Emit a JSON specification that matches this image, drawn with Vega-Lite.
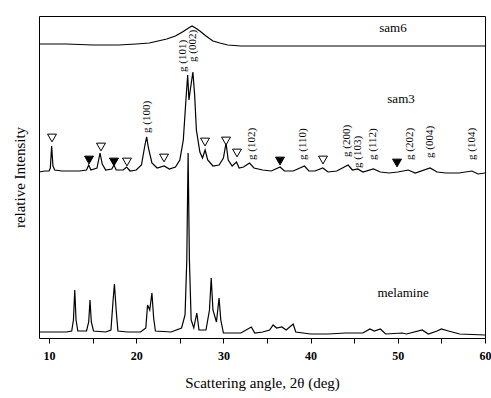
{
  "$schema": "https://vega.github.io/schema/vega-lite/v6.json",
  "width": 446,
  "height": 322,
  "autosize": {"type": "none"},
  "padding": {"left": 39, "top": 16, "right": 6, "bottom": 60},
  "background": "white",
  "config": {
    "view": {"stroke": "black", "strokeWidth": 1},
    "font": "Liberation Serif"
  },
  "datasets": {
    "traces": [
      {"s": "sam6", "a": 8.85, "i": 294}, {"s": "sam6", "a": 12, "i": 294}, {"s": "sam6", "a": 15, "i": 293}, {"s": "sam6", "a": 18, "i": 293}, {"s": "sam6", "a": 20, "i": 294}, {"s": "sam6", "a": 21.5, "i": 295}, {"s": "sam6", "a": 22.5, "i": 297}, {"s": "sam6", "a": 23.5, "i": 299}, {"s": "sam6", "a": 24.5, "i": 302}, {"s": "sam6", "a": 25.3, "i": 306}, {"s": "sam6", "a": 26.0, "i": 310}, {"s": "sam6", "a": 26.4, "i": 312}, {"s": "sam6", "a": 26.8, "i": 310}, {"s": "sam6", "a": 27.3, "i": 307}, {"s": "sam6", "a": 28.0, "i": 302}, {"s": "sam6", "a": 28.8, "i": 297}, {"s": "sam6", "a": 29.6, "i": 295}, {"s": "sam6", "a": 30.5, "i": 293}, {"s": "sam6", "a": 32, "i": 292}, {"s": "sam6", "a": 40, "i": 292}, {"s": "sam6", "a": 45, "i": 292}, {"s": "sam6", "a": 50, "i": 292}, {"s": "sam6", "a": 55, "i": 292}, {"s": "sam6", "a": 60, "i": 292},
      {"s": "sam3", "a": 8.85, "i": 166}, {"s": "sam3", "a": 9.5, "i": 167}, {"s": "sam3", "a": 10.0, "i": 167}, {"s": "sam3", "a": 10.15, "i": 170}, {"s": "sam3", "a": 10.3, "i": 192}, {"s": "sam3", "a": 10.45, "i": 172}, {"s": "sam3", "a": 10.65, "i": 168}, {"s": "sam3", "a": 11.5, "i": 167}, {"s": "sam3", "a": 12.5, "i": 167}, {"s": "sam3", "a": 13.5, "i": 167}, {"s": "sam3", "a": 14.3, "i": 168}, {"s": "sam3", "a": 14.55, "i": 173}, {"s": "sam3", "a": 14.8, "i": 168}, {"s": "sam3", "a": 15.5, "i": 170}, {"s": "sam3", "a": 15.85, "i": 185}, {"s": "sam3", "a": 16.1, "i": 174}, {"s": "sam3", "a": 16.5, "i": 168}, {"s": "sam3", "a": 17.2, "i": 169}, {"s": "sam3", "a": 17.45, "i": 173}, {"s": "sam3", "a": 17.7, "i": 168}, {"s": "sam3", "a": 18.5, "i": 168}, {"s": "sam3", "a": 18.9, "i": 171}, {"s": "sam3", "a": 19.3, "i": 167}, {"s": "sam3", "a": 20.0, "i": 168}, {"s": "sam3", "a": 20.6, "i": 173}, {"s": "sam3", "a": 21.0, "i": 193}, {"s": "sam3", "a": 21.2, "i": 201}, {"s": "sam3", "a": 21.4, "i": 190}, {"s": "sam3", "a": 21.8, "i": 175}, {"s": "sam3", "a": 22.4, "i": 170}, {"s": "sam3", "a": 23.2, "i": 172}, {"s": "sam3", "a": 23.8, "i": 169}, {"s": "sam3", "a": 24.5, "i": 171}, {"s": "sam3", "a": 25.0, "i": 178}, {"s": "sam3", "a": 25.4, "i": 198}, {"s": "sam3", "a": 25.7, "i": 238}, {"s": "sam3", "a": 25.9, "i": 263}, {"s": "sam3", "a": 26.05, "i": 238}, {"s": "sam3", "a": 26.2, "i": 248}, {"s": "sam3", "a": 26.5, "i": 266}, {"s": "sam3", "a": 26.7, "i": 243}, {"s": "sam3", "a": 26.9, "i": 208}, {"s": "sam3", "a": 27.3, "i": 186}, {"s": "sam3", "a": 27.6, "i": 180}, {"s": "sam3", "a": 27.9, "i": 188}, {"s": "sam3", "a": 28.2, "i": 178}, {"s": "sam3", "a": 28.8, "i": 172}, {"s": "sam3", "a": 29.5, "i": 173}, {"s": "sam3", "a": 30.0, "i": 180}, {"s": "sam3", "a": 30.3, "i": 195}, {"s": "sam3", "a": 30.55, "i": 178}, {"s": "sam3", "a": 31.0, "i": 172}, {"s": "sam3", "a": 31.5, "i": 176}, {"s": "sam3", "a": 31.8, "i": 170}, {"s": "sam3", "a": 32.3, "i": 171}, {"s": "sam3", "a": 33.0, "i": 175}, {"s": "sam3", "a": 33.5, "i": 170}, {"s": "sam3", "a": 34.5, "i": 168}, {"s": "sam3", "a": 35.5, "i": 167}, {"s": "sam3", "a": 36.5, "i": 171}, {"s": "sam3", "a": 37.0, "i": 167}, {"s": "sam3", "a": 38.0, "i": 167}, {"s": "sam3", "a": 39.3, "i": 172}, {"s": "sam3", "a": 39.8, "i": 167}, {"s": "sam3", "a": 40.5, "i": 167}, {"s": "sam3", "a": 41.4, "i": 170}, {"s": "sam3", "a": 42.0, "i": 166}, {"s": "sam3", "a": 43.0, "i": 167}, {"s": "sam3", "a": 44.3, "i": 173}, {"s": "sam3", "a": 44.8, "i": 168}, {"s": "sam3", "a": 45.4, "i": 169}, {"s": "sam3", "a": 46.0, "i": 166}, {"s": "sam3", "a": 47.2, "i": 169}, {"s": "sam3", "a": 48.0, "i": 166}, {"s": "sam3", "a": 49.0, "i": 165}, {"s": "sam3", "a": 50.0, "i": 166}, {"s": "sam3", "a": 51.2, "i": 168}, {"s": "sam3", "a": 52.0, "i": 165}, {"s": "sam3", "a": 53.7, "i": 170}, {"s": "sam3", "a": 54.5, "i": 166}, {"s": "sam3", "a": 55.5, "i": 165}, {"s": "sam3", "a": 57.0, "i": 165}, {"s": "sam3", "a": 58.5, "i": 167}, {"s": "sam3", "a": 59.2, "i": 164}, {"s": "sam3", "a": 60.0, "i": 165},
      {"s": "melamine", "a": 8.85, "i": 6}, {"s": "melamine", "a": 10, "i": 6}, {"s": "melamine", "a": 12.0, "i": 6}, {"s": "melamine", "a": 12.6, "i": 7}, {"s": "melamine", "a": 12.8, "i": 18}, {"s": "melamine", "a": 12.95, "i": 48}, {"s": "melamine", "a": 13.1, "i": 18}, {"s": "melamine", "a": 13.3, "i": 7}, {"s": "melamine", "a": 14.3, "i": 7}, {"s": "melamine", "a": 14.55, "i": 16}, {"s": "melamine", "a": 14.7, "i": 38}, {"s": "melamine", "a": 14.85, "i": 16}, {"s": "melamine", "a": 15.1, "i": 7}, {"s": "melamine", "a": 16.5, "i": 6}, {"s": "melamine", "a": 17.1, "i": 8}, {"s": "melamine", "a": 17.35, "i": 38}, {"s": "melamine", "a": 17.5, "i": 54}, {"s": "melamine", "a": 17.7, "i": 28}, {"s": "melamine", "a": 17.9, "i": 7}, {"s": "melamine", "a": 19, "i": 6}, {"s": "melamine", "a": 20.5, "i": 6}, {"s": "melamine", "a": 21.1, "i": 10}, {"s": "melamine", "a": 21.3, "i": 33}, {"s": "melamine", "a": 21.55, "i": 28}, {"s": "melamine", "a": 21.8, "i": 45}, {"s": "melamine", "a": 22.0, "i": 20}, {"s": "melamine", "a": 22.2, "i": 7}, {"s": "melamine", "a": 24.0, "i": 6}, {"s": "melamine", "a": 25.2, "i": 10}, {"s": "melamine", "a": 25.6, "i": 23}, {"s": "melamine", "a": 25.8, "i": 78}, {"s": "melamine", "a": 25.95, "i": 185}, {"s": "melamine", "a": 26.1, "i": 78}, {"s": "melamine", "a": 26.3, "i": 18}, {"s": "melamine", "a": 26.6, "i": 10}, {"s": "melamine", "a": 26.95, "i": 25}, {"s": "melamine", "a": 27.2, "i": 8}, {"s": "melamine", "a": 28.0, "i": 8}, {"s": "melamine", "a": 28.4, "i": 28}, {"s": "melamine", "a": 28.6, "i": 60}, {"s": "melamine", "a": 28.8, "i": 28}, {"s": "melamine", "a": 29.2, "i": 16}, {"s": "melamine", "a": 29.5, "i": 40}, {"s": "melamine", "a": 29.7, "i": 18}, {"s": "melamine", "a": 30.0, "i": 5}, {"s": "melamine", "a": 31, "i": 5}, {"s": "melamine", "a": 32, "i": 5}, {"s": "melamine", "a": 33.2, "i": 11}, {"s": "melamine", "a": 33.6, "i": 5}, {"s": "melamine", "a": 34.5, "i": 6}, {"s": "melamine", "a": 35.3, "i": 8}, {"s": "melamine", "a": 35.7, "i": 13}, {"s": "melamine", "a": 36.1, "i": 10}, {"s": "melamine", "a": 36.7, "i": 11}, {"s": "melamine", "a": 37.2, "i": 8}, {"s": "melamine", "a": 38.0, "i": 14}, {"s": "melamine", "a": 38.3, "i": 6}, {"s": "melamine", "a": 40, "i": 4}, {"s": "melamine", "a": 42, "i": 4}, {"s": "melamine", "a": 44, "i": 5}, {"s": "melamine", "a": 46, "i": 5}, {"s": "melamine", "a": 46.8, "i": 9}, {"s": "melamine", "a": 47.3, "i": 7}, {"s": "melamine", "a": 48.0, "i": 9}, {"s": "melamine", "a": 48.6, "i": 4}, {"s": "melamine", "a": 50.5, "i": 5}, {"s": "melamine", "a": 51.0, "i": 4}, {"s": "melamine", "a": 52.8, "i": 8}, {"s": "melamine", "a": 53.5, "i": 4}, {"s": "melamine", "a": 54.5, "i": 7}, {"s": "melamine", "a": 55.0, "i": 9}, {"s": "melamine", "a": 55.8, "i": 7}, {"s": "melamine", "a": 57.1, "i": 4}, {"s": "melamine", "a": 60, "i": 3}
    ],
    "markers": [
      {"a": 10.34, "i": 200, "t": "open"}, {"a": 15.96, "i": 191, "t": "open"}, {"a": 18.94, "i": 176, "t": "open"}, {"a": 23.19, "i": 180, "t": "open"}, {"a": 27.89, "i": 196, "t": "open"}, {"a": 30.30, "i": 197, "t": "open"}, {"a": 31.56, "i": 185, "t": "open"}, {"a": 41.42, "i": 178, "t": "open"},
      {"a": 14.59, "i": 178, "t": "filled"}, {"a": 17.45, "i": 176, "t": "filled"}, {"a": 36.49, "i": 177, "t": "filled"}, {"a": 49.91, "i": 175, "t": "filled"}
    ],
    "peaks": [
      {"a": 21.24, "i": 205, "label": "g (100)"}, {"a": 25.4, "i": 266, "label": "g (101)"}, {"a": 26.5, "i": 276, "label": "g (002)"}, {"a": 33.3, "i": 178, "label": "g (102)"}, {"a": 39.1, "i": 178, "label": "g (110)"}, {"a": 44.2, "i": 181, "label": "g (200)"}, {"a": 45.4, "i": 170, "label": "g (103)"}, {"a": 47.2, "i": 178, "label": "g (112)"}, {"a": 51.4, "i": 178, "label": "g (202)"}, {"a": 53.7, "i": 180, "label": "g (004)"}, {"a": 58.5, "i": 178, "label": "g (104)"}
    ],
    "names": [
      {"a": 49.45, "i": 310, "label": "sam6"}, {"a": 50.37, "i": 239, "label": "sam3"}, {"a": 50.6, "i": 45, "label": "melamine"}
    ]
  },
  "encoding": {
    "x": {
      "field": "a", "type": "quantitative",
      "scale": {"domain": [8.85, 60], "nice": false, "zero": false},
      "axis": {
        "title": "Scattering angle, 2θ (deg)",
        "values": [10, 15, 20, 25, 30, 35, 40, 45, 50, 55, 60],
        "labelExpr": "datum.value % 10 === 0 ? datum.label : ''",
        "grid": false, "domain": false, "tickColor": "black", "tickSize": 5,
        "labelColor": "black", "labelFont": "Liberation Serif", "labelFontSize": 12, "labelFontWeight": "bold",
        "labelPadding": 7, "labelFlush": false,
        "titleFont": "Liberation Serif", "titleFontSize": 15, "titleFontWeight": "normal", "titleColor": "black", "titlePadding": 14
      }
    },
    "y": {
      "field": "i", "type": "quantitative",
      "scale": {"domain": [0, 322], "nice": false, "zero": false},
      "axis": {
        "title": "relative Intensity", "labels": false, "ticks": false, "grid": false, "domain": false,
        "minExtent": 0, "titlePadding": 12,
        "titleFont": "Liberation Serif", "titleFontSize": 15, "titleFontWeight": "normal", "titleColor": "black"
      }
    }
  },
  "layer": [
    {
      "data": {"name": "traces"},
      "mark": {"type": "line", "color": "black", "strokeWidth": 1.2, "clip": true},
      "encoding": {"detail": {"field": "s"}}
    },
    {
      "data": {"name": "markers"},
      "transform": [{"filter": "datum.t === 'open'"}],
      "mark": {"type": "point", "shape": "triangle-down", "size": 80, "filled": true, "fill": "white", "stroke": "black", "strokeWidth": 1, "opacity": 1}
    },
    {
      "data": {"name": "markers"},
      "transform": [{"filter": "datum.t === 'filled'"}],
      "mark": {"type": "point", "shape": "triangle-down", "size": 80, "filled": true, "fill": "black", "stroke": "black", "strokeWidth": 1, "opacity": 1}
    },
    {
      "data": {"name": "peaks"},
      "mark": {"type": "text", "angle": 270, "align": "left", "baseline": "middle", "font": "Liberation Serif", "fontSize": 11, "color": "black"},
      "encoding": {"text": {"field": "label"}}
    },
    {
      "data": {"name": "names"},
      "mark": {"type": "text", "align": "center", "baseline": "middle", "font": "Liberation Serif", "fontSize": 13, "color": "black"},
      "encoding": {"text": {"field": "label"}}
    }
  ]
}
